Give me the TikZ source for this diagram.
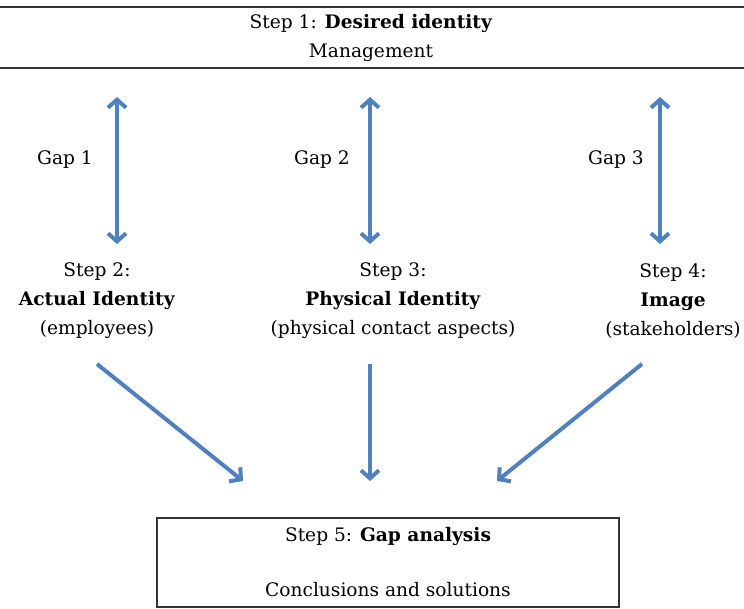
\documentclass[tikz,border=0pt]{standalone}
\usepackage{fontspec}
\setmainfont{DejaVu Serif}
\usetikzlibrary{arrows.meta}

\definecolor{gapblue}{RGB}{79,129,189}
\tikzset{
  gaparrow/.style={draw=gapblue, line width=4pt, -{Straight Barb[length=8pt,width=18pt]}},
  gapboth/.style={draw=gapblue, line width=4pt, {Straight Barb[length=8pt,width=18pt]}-{Straight Barb[length=8pt,width=18pt]}},
  stepbox/.style={draw=black!80, line width=1.4pt, align=center},
  steptext/.style={align=center}
}

\begin{document}
\begin{tikzpicture}[x=1pt,y=-1pt,every node/.style={font=\fontsize{18.6}{29}\selectfont}]
	\useasboundingbox (0,0) rectangle (744,608);
	% step 1
	\node[stepbox, minimum width=760pt, minimum height=61pt] (desired) at (371,37.5) {Step 1: \textbf{Desired identity}\\Management};
	% steps 2 to 4
	\node[steptext] (actual) at (97,301) {Step 2:\\\textbf{Actual Identity}\\(employees)};
	\node[steptext] (physical) at (393,301) {Step 3:\\\textbf{Physical Identity}\\(physical contact aspects)};
	\node[steptext] (image) at (673,301) {Step 4:\\\textbf{Image}\\(stakeholders)};
	% gaps
	\node (gapone) at (65,160) {Gap 1};
	\node (gaptwo) at (322,160) {Gap 2};
	\node (gapthree) at (616,160) {Gap 3};
	% step 5
	\node[stepbox, minimum width=462pt, minimum height=89pt] (analysis) at (388,562.5) {Step 5: \textbf{Gap analysis}\\[26pt]Conclusions and solutions};
	% arrow ends
	\coordinate (gaponetop) at (117,97);
	\coordinate (gaponebot) at (117,244);
	\coordinate (gaptwotop) at (370,97);
	\coordinate (gaptwobot) at (370,244);
	\coordinate (gapthreetop) at (660,97);
	\coordinate (gapthreebot) at (660,244);
	\coordinate (actualout) at (97,364);
	\coordinate (physicalout) at (370,364);
	\coordinate (imageout) at (642,364);
	\coordinate (analysisleft) at (243,481);
	\coordinate (analysismid) at (370,481);
	\coordinate (analysisright) at (497,481);
	\draw[gapboth] (gaponetop) -- (gaponebot);
	\draw[gapboth] (gaptwotop) -- (gaptwobot);
	\draw[gapboth] (gapthreetop) -- (gapthreebot);
	\draw[gaparrow] (actualout) -- (analysisleft);
	\draw[gaparrow] (physicalout) -- (analysismid);
	\draw[gaparrow] (imageout) -- (analysisright);
\end{tikzpicture}
\end{document}
